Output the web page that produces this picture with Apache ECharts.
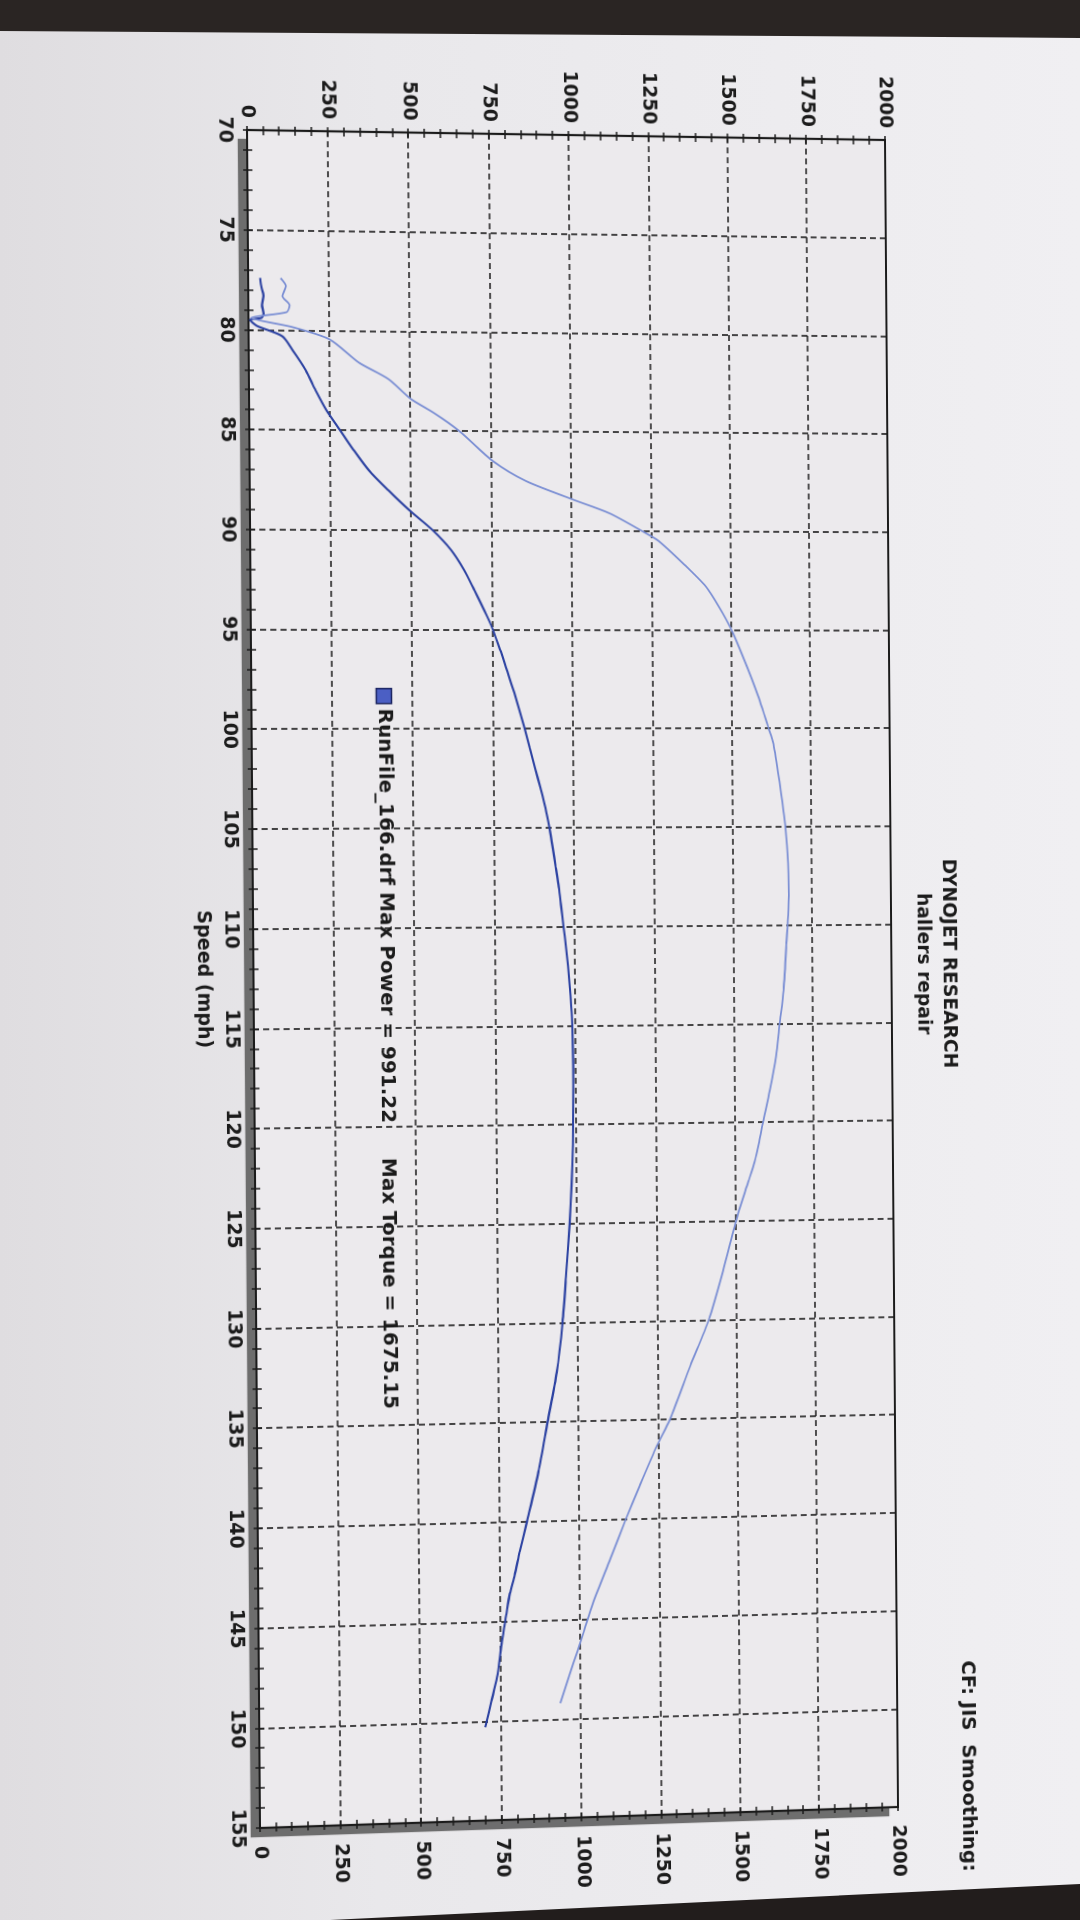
<!DOCTYPE html>
<html>
<head>
<meta charset="utf-8">
<script src="https://cdn.jsdelivr.net/npm/echarts@6/dist/echarts.min.js"></script>
<style>
html,body{margin:0;padding:0;width:1080px;height:1920px;overflow:hidden;
  background:linear-gradient(90deg,#dfdde0 0%,#e9e8eb 35%,#f0eff2 100%);}
#topband{position:absolute;left:0;top:0;width:1080px;height:44px;background:#2a2523;z-index:2;
  clip-path:polygon(0 0,1080px 0,1080px 38px,0 31px);}
#botband{position:absolute;left:0;top:1860px;width:1080px;height:60px;background:#221d1c;z-index:2;
  clip-path:polygon(330px 60px,1080px 24px,1080px 60px);}
#chart{position:absolute;left:0;top:0;width:1920px;height:1080px;transform-origin:0 0;}
</style>
</head>
<body>
<div id="topband"></div>
<div id="botband"></div>
<div id="chart"></div>
<script>
// ---- data read from the dyno sheet ----
const speedTicks = [70,75,80,85,90,95,100,105,110,115,120,125,130,135,140,145,150,155];
const valueTicks = [0,250,500,750,1000,1250,1500,1750,2000];

const powerSpeed = [77.4,77.8,78.3,78.75,79.2,79.4,79.5,79.8,80.3,81,82,83,84,85,86,87,88,89,90,91,92,93,94,95,96,97,98,99,100,101,102,103,104,105,106,107,108,109,110,111,112,113,114,115,117,119,121,123,125,127.5,130,132.5,135,137.5,140,141.5,142.7,143.6,144.7,146,147.8,149,150.3];
const powerValue = [37,40,47,42,47,40,5,25,103,135,175,205,238,280,322,368,428,493,565,622,662,693,723,750,772,792,812,830,847,863,879,895,910,922,932,941,950,957,964,971,977,982,986,989,991,990,988,983,976,964,951,932,902,872,835,812,795,780,768,754,738,720,700];

const torqueSpeed = [77.4,77.8,78.3,78.75,79.1,79.4,79.85,80.45,81.6,82.4,83.4,84.1,85,86.5,87.5,88.4,89.1,90,90.5,91.7,92.8,93.8,95,96.5,98.2,100,100.8,102.8,104.4,106.4,108.5,111,113.3,115,116.7,118.4,120,121,122,123,124.7,127.5,130,132.3,135,136.3,138.3,140,142,144.2,145.6,146.6,147.8,149.2];
const torqueValue = [100,116,105,127,118,8,136,250,340,430,500,572,650,754,857,1000,1117,1220,1272,1353,1420,1460,1500,1539,1579,1615,1630,1649,1662,1672,1675,1666,1656,1643,1630,1610,1588,1575,1560,1540,1505,1458,1411,1352,1286,1245,1190,1145,1095,1040,1011,990,964,935];

const titleLines = ['DYNOJET RESEARCH', 'hallers repair'];
const cfLabel = 'CF: JIS  Smoothing:';
const legendLabel = 'RunFile_166.drf Max Power = 991.22     Max Torque = 1675.15';
const speedAxisName = 'Speed (mph)';

// ---- layout (chart is drawn landscape, then laid onto the photographed sheet) ----
const W = 1920, H = 1080;
const G = {left: 130, right: 95, top: 192, bottom: 253};
const gx0 = G.left, gx1 = W - G.right, gy0 = G.top, gy1 = H - G.bottom;
// where the plot corners sit on the photographed page
const srcPts = [[gx0, gy1], [gx0, gy0], [gx1, gy1], [gx1, gy0]];
const dstPts = [[247, 130], [885, 140], [260, 1828], [898, 1807]];

function homography(src, dst) {
  const A = [], b = [];
  for (let i = 0; i < 4; i++) {
    const [x, y] = src[i], [X, Y] = dst[i];
    A.push([x, y, 1, 0, 0, 0, -x * X, -y * X]); b.push(X);
    A.push([0, 0, 0, x, y, 1, -x * Y, -y * Y]); b.push(Y);
  }
  const n = 8;
  for (let c = 0; c < n; c++) {
    let p = c;
    for (let r = c + 1; r < n; r++) if (Math.abs(A[r][c]) > Math.abs(A[p][c])) p = r;
    [A[c], A[p]] = [A[p], A[c]]; [b[c], b[p]] = [b[p], b[c]];
    for (let r = 0; r < n; r++) {
      if (r === c) continue;
      const f = A[r][c] / A[c][c];
      for (let k = c; k < n; k++) A[r][k] -= f * A[c][k];
      b[r] -= f * b[c];
    }
  }
  return b.map((v, i) => v / A[i][i]);
}
const h = homography(srcPts, dstPts);
document.getElementById('chart').style.transform =
  'matrix3d(' + [h[0], h[3], 0, h[6], h[1], h[4], 0, h[7], 0, 0, 1, 0, h[2], h[5], 0, 1].join(',') + ')';

// ---- chart ----
const FONT = '"DejaVu Sans", Verdana, sans-serif';
const INK = '#1b1b1b';
const pair = (xs, ys) => xs.map((x, i) => [x, ys[i]]);
const plain = v => String(v);

const chart = echarts.init(document.getElementById('chart'), null, {renderer: 'canvas', width: W, height: H});

const tickStyle = {color: INK, width: 1.5};
const speedRange = {
  type: 'value', min: speedTicks[0], max: speedTicks[speedTicks.length - 1],
  interval: speedTicks[1] - speedTicks[0]
};
const valueRange = {
  type: 'value', min: valueTicks[0], max: valueTicks[valueTicks.length - 1],
  interval: valueTicks[1] - valueTicks[0]
};
const labelStyle = {fontSize: 19, fontWeight: 'bold', fontFamily: FONT, color: INK,
                    formatter: plain, showMinLabel: true, showMaxLabel: true};
const dashed = {show: true, lineStyle: {color: '#1a1a1a', width: 1.6, type: [6, 4]}};
// companion axes that only draw outward ticks, so every tick crosses the frame
const outerTicks = (extra) => Object.assign({
  axisLine: {show: false, onZero: false},
  axisTick: {show: true, inside: false, length: 4, lineStyle: tickStyle},
  minorTick: {show: true, splitNumber: 5, length: 4, lineStyle: tickStyle},
  axisLabel: {show: false}, splitLine: {show: false}
}, extra);

chart.setOption({
  animation: false,
  backgroundColor: 'transparent',
  grid: {
    left: G.left, right: G.right, top: G.top, bottom: G.bottom,
    show: true, backgroundColor: '#eceaed', borderWidth: 0,
    shadowColor: 'rgba(95,95,95,0.9)', shadowOffsetX: 9, shadowOffsetY: 9, shadowBlur: 1
  },
  xAxis: [
    Object.assign({}, speedRange, {
      position: 'bottom',
      name: speedAxisName, nameLocation: 'middle', nameGap: 40,
      nameTextStyle: {fontSize: 19, fontWeight: 'bold', fontFamily: FONT, color: INK},
      axisLine: {show: true, onZero: false, lineStyle: {color: INK, width: 2.2}},
      axisTick: {show: true, inside: true, length: 5, lineStyle: tickStyle},
      minorTick: {show: true, splitNumber: 5, length: 5, lineStyle: tickStyle},
      axisLabel: Object.assign({}, labelStyle, {margin: 13}),
      splitLine: dashed
    }),
    Object.assign({}, speedRange, {
      position: 'top',
      axisLine: {show: true, onZero: false, lineStyle: {color: INK, width: 1.8}},
      axisTick: {show: false}, axisLabel: {show: false}, splitLine: {show: false}
    }),
    Object.assign({}, speedRange, outerTicks({position: 'bottom'}))
  ],
  yAxis: [
    Object.assign({}, valueRange, {
      position: 'left',
      axisLine: {show: true, lineStyle: {color: INK, width: 2.2}},
      axisTick: {show: true, inside: true, length: 5, lineStyle: tickStyle},
      minorTick: {show: true, splitNumber: 5, length: 5, lineStyle: tickStyle},
      axisLabel: Object.assign({}, labelStyle, {margin: 12}),
      splitLine: dashed
    }),
    Object.assign({}, valueRange, {
      position: 'right',
      axisLine: {show: true, lineStyle: {color: INK, width: 2.2}},
      axisTick: {show: true, inside: true, length: 5, lineStyle: tickStyle},
      minorTick: {show: true, splitNumber: 5, length: 5, lineStyle: tickStyle},
      axisLabel: Object.assign({}, labelStyle, {margin: 18}),
      splitLine: {show: false}
    }),
    Object.assign({}, valueRange, outerTicks({position: 'left'})),
    Object.assign({}, valueRange, outerTicks({position: 'right'}))
  ],
  legend: {
    data: [{name: legendLabel, icon: 'rect'}],
    left: 687, top: 687, padding: 0,
    itemWidth: 15, itemHeight: 15, itemGap: 6,
    itemStyle: {color: '#4b5fc4', borderColor: '#1b2460', borderWidth: 1.5},
    textStyle: {fontSize: 20, fontWeight: 'bold', fontFamily: FONT, color: INK},
    selectedMode: false
  },
  graphic: [
    {type: 'text', x: 968, y: 134, silent: true,
     style: {text: titleLines[0], fill: INK, font: 'bold 19px ' + FONT,
             textAlign: 'center', textVerticalAlign: 'middle', align: 'center', verticalAlign: 'middle'}},
    {type: 'text', x: 968, y: 160, silent: true,
     style: {text: titleLines[1], fill: INK, font: 'bold 19px ' + FONT,
             textAlign: 'center', textVerticalAlign: 'middle', align: 'center', verticalAlign: 'middle'}},
    {type: 'text', x: 1678, y: 121, silent: true,
     style: {text: cfLabel, fill: INK, font: 'bold 20px ' + FONT,
             textAlign: 'left', textVerticalAlign: 'middle', align: 'left', verticalAlign: 'middle'}}
  ],
  series: [
    {
      name: legendLabel, type: 'line', xAxisIndex: 0, yAxisIndex: 0,
      data: pair(powerSpeed, powerValue),
      showSymbol: false, smooth: 0.25,
      lineStyle: {color: '#2c42a2', width: 2.1},
      itemStyle: {color: '#4b5fc4'}
    },
    {
      name: legendLabel, type: 'line', xAxisIndex: 0, yAxisIndex: 1,
      data: pair(torqueSpeed, torqueValue),
      showSymbol: false, smooth: 0.25,
      lineStyle: {color: '#7b8fd4', width: 1.8},
      itemStyle: {color: '#7b8fd4'}
    }
  ]
});
</script>
</body>
</html>
